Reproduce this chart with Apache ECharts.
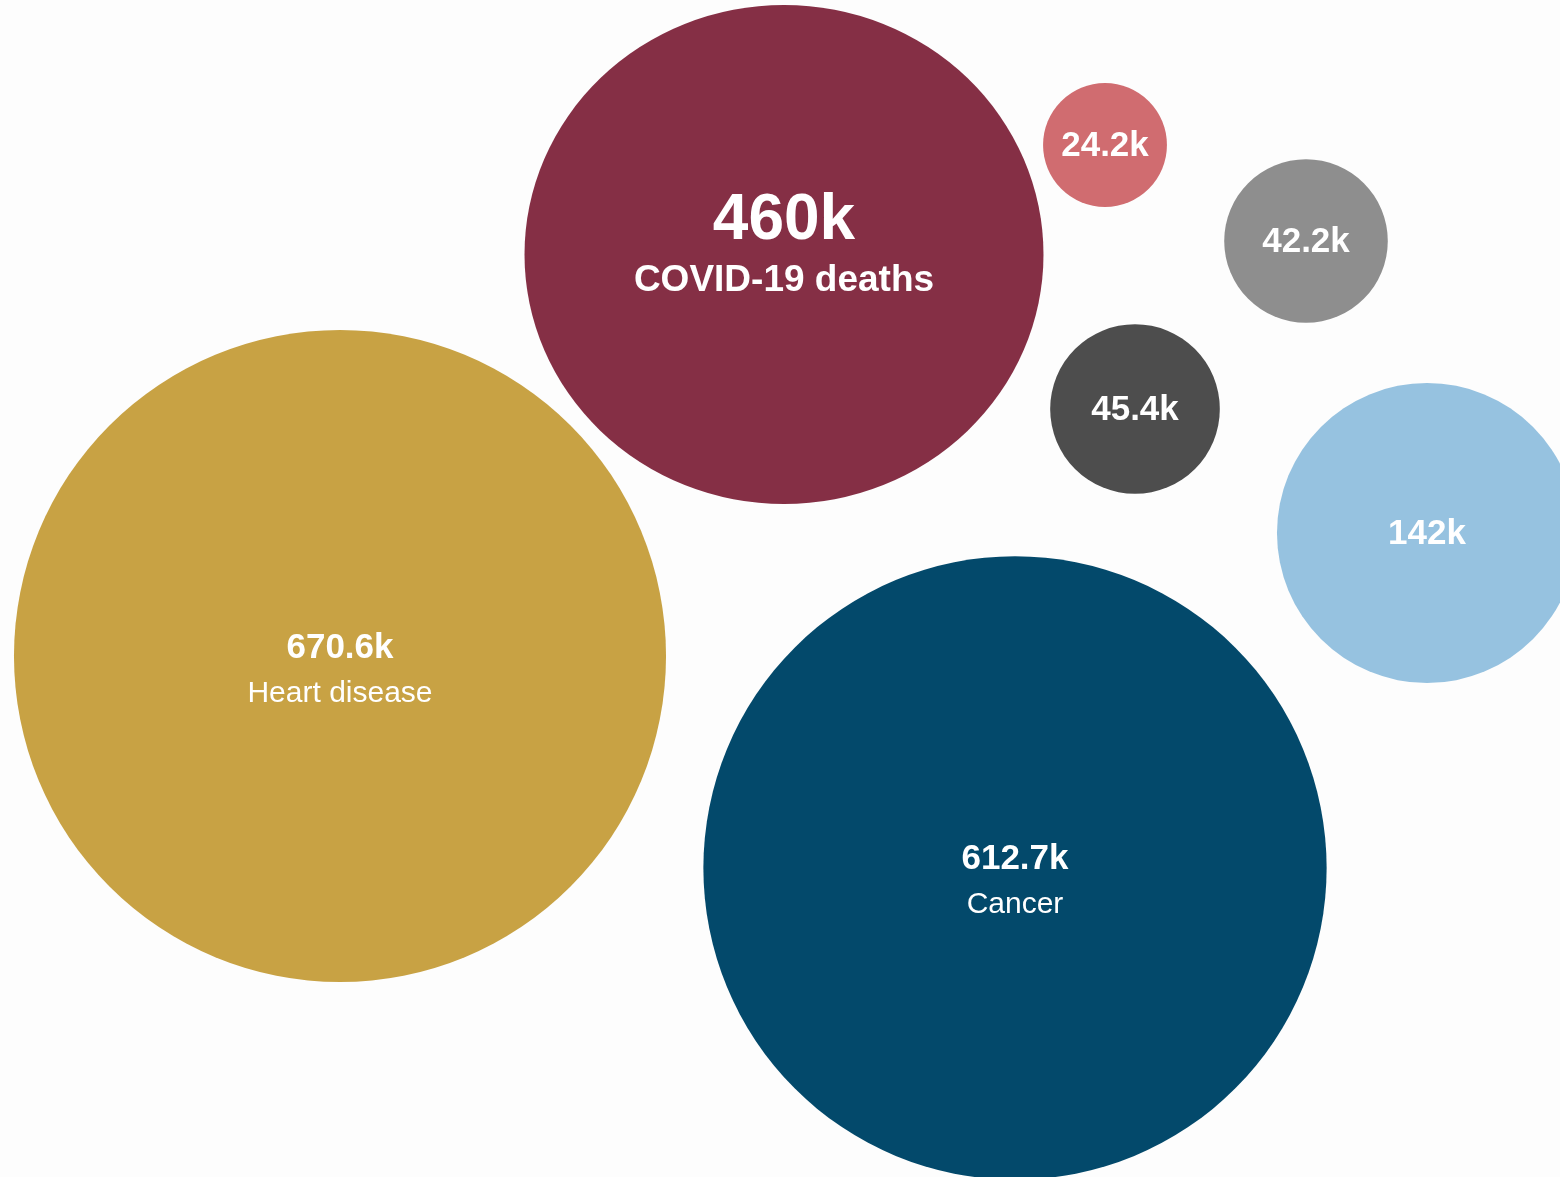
<!DOCTYPE html>
<html>
<head>
<meta charset="utf-8">
<script src="https://cdn.jsdelivr.net/npm/echarts@6/dist/echarts.min.js"></script>
<style>
html,body{margin:0;padding:0;background:#fdfdfd;}
#chart{width:1560px;height:1177px;}
</style>
</head>
<body>
<div id="chart"></div>
<script>
// Deaths (thousands)
const causes = ['Heart disease', 'Cancer', 'COVID-19 deaths', 'Other A', 'Other B', 'Other C', 'Other D'];
const deaths = [670.6, 612.7, 460, 142, 45.4, 42.2, 24.2];
const valueLabels = ['670.6k', '612.7k', '460k', '142k', '45.4k', '42.2k', '24.2k'];
const showName = [true, true, true, false, false, false, false];

// Layout (bubble centres, in page pixels) kept separately from data
const centerX = [340, 1015, 784, 1427, 1135, 1306, 1105];
const centerY = [656, 868, 254.5, 533, 409, 241, 145];
// Styles
const colors = ['#c8a244', '#03496b', '#852f45', '#96c2e0', '#4d4d4d', '#8e8e8e', '#d06c70'];
const RADIUS_PER_SQRT = 12.59;
const sizeScaleX = [1, 1, 0.961, 1, 1, 1, 1];
const sizeScaleY = [1, 1, 0.924, 1, 1, 1, 1];
const labelShift = [15, 14, -3.5, 1, 1, 1, 1];

const chart = echarts.init(document.getElementById('chart'), null, {renderer: 'canvas'});

const FONT = 'Liberation Sans, Arial, sans-serif';
const data = deaths.map((v, i) => {
  const isCovid = causes[i] === 'COVID-19 deaths';
  let fmt;
  if (showName[i]) {
    fmt = isCovid ? '{cv|' + valueLabels[i] + '}\n{cn|' + causes[i] + '}'
                  : '{v|' + valueLabels[i] + '}\n{n|' + causes[i] + '}';
  } else {
    fmt = '{s|' + valueLabels[i] + '}';
  }
  const d = 2 * RADIUS_PER_SQRT * Math.sqrt(v);
  return {
    name: causes[i],
    value: [centerX[i], centerY[i], v],
    symbolSize: [d * sizeScaleX[i], d * sizeScaleY[i]],
    itemStyle: {color: colors[i], opacity: 1},
    label: {formatter: fmt, offset: [0, labelShift[i]]}
  };
});

chart.setOption({
  backgroundColor: '#fdfdfd',
  animation: false,
  grid: {left: 0, right: 0, top: 0, bottom: 0},
  xAxis: {type: 'value', min: 0, max: 1560, show: false},
  yAxis: {type: 'value', min: 0, max: 1177, inverse: true, show: false},
  series: [{
    type: 'scatter',
    symbol: 'circle',
    clip: false,
    itemStyle: {opacity: 1},
    data: data,
    label: {
      show: true,
      position: 'inside',
      color: '#ffffff',
      opacity: 1,
      fontFamily: FONT,
      rich: {
        v: {fontSize: 35, fontWeight: 'bold', color: '#fff', lineHeight: 45, fontFamily: FONT, align: 'center'},
        n: {fontSize: 30, fontWeight: 'normal', color: '#fff', lineHeight: 45, fontFamily: FONT, align: 'center'},
        cv: {fontSize: 64, fontWeight: 'bold', color: '#fff', lineHeight: 59, fontFamily: FONT, align: 'center'},
        cn: {fontSize: 37, fontWeight: 'bold', color: '#fff', lineHeight: 59, fontFamily: FONT, align: 'center'},
        s: {fontSize: 35, fontWeight: 'bold', color: '#fff', fontFamily: FONT}
      }
    },
    emphasis: {disabled: true}
  }]
});
</script>
</body>
</html>
